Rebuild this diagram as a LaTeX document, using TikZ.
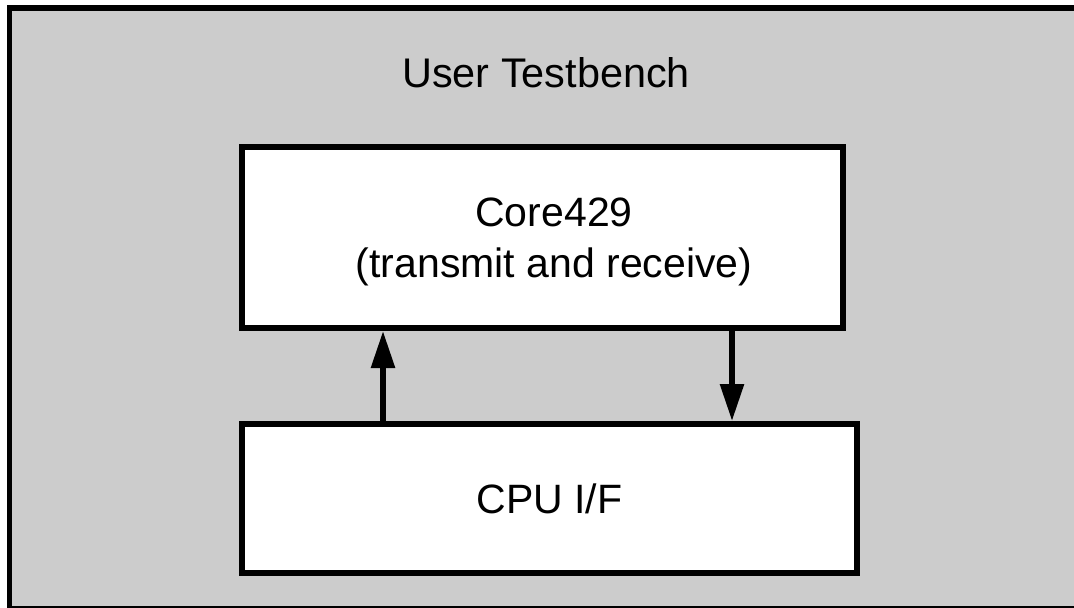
\documentclass[tikz,border=0pt]{standalone}
\usepackage{fontspec}
\setmainfont{Liberation Sans}
\usetikzlibrary{arrows.meta}
\begin{document}
\begin{tikzpicture}[x=0.5pt,y=-0.5pt,
  boxstyle/.style={draw=black,fill=white,line width=3pt,inner sep=0pt,font=\fontsize{20.5}{25.5}\selectfont,align=center},
  arr/.style={line width=2.8pt,-{Triangle[width=11.5pt,length=18.5pt]}}]
\useasboundingbox (0,0) rectangle (1074,607);
\begin{scope}
\clip (0,0) rectangle (1074,607);
\draw[fill={rgb,255:red,204;green,204;blue,204},line width=2.6pt] (9.5,8) rectangle (1090,608.5);
\end{scope}
\node[font=\fontsize{20.7}{25}\selectfont] (title) at (546,73) {User Testbench};
\node[boxstyle,minimum width=300.5pt,minimum height=90.5pt] (core) at (542.5,237.5) {};
\node[font=\fontsize{20.5}{25.5}\selectfont,align=center] (coretext) at (554,242) {Core429\\(transmit and receive)};
\node[boxstyle,minimum width=307.5pt,minimum height=74.5pt] (cpu) at (549.5,498.5) {CPU I/F};
\coordinate (ua) at (383,0);
\coordinate (da) at (732,0);
\draw[arr] (cpu.north -| ua) -- (core.south -| ua);
\draw[arr] (core.south -| da) -- (cpu.north -| da);
\end{tikzpicture}
\end{document}
